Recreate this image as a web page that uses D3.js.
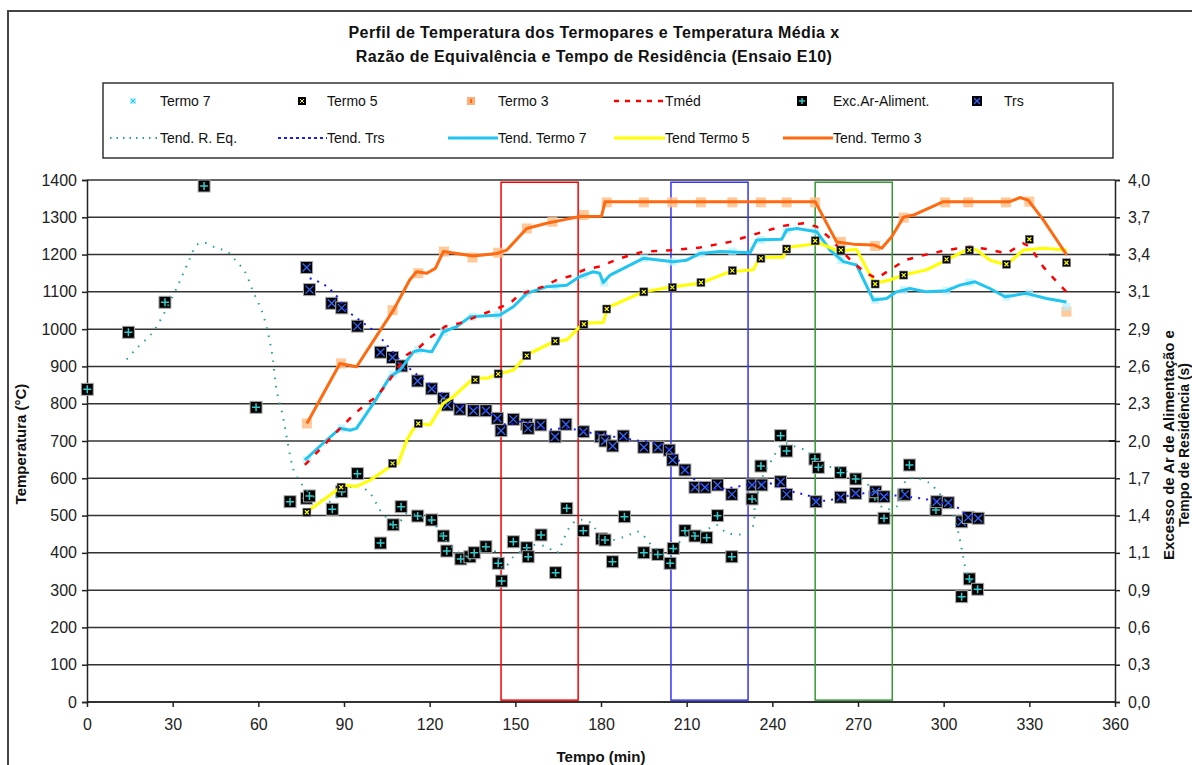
<!DOCTYPE html>
<html><head><meta charset="utf-8">
<script src="https://cdn.jsdelivr.net/npm/d3@7"></script>
<style>
html,body{margin:0;padding:0;background:#fff;}
svg{display:block;font-family:"Liberation Sans",Arial,sans-serif;}
</style></head>
<body><svg id="chart" width="1192" height="765"></svg>
<script>
// ---------- DATA ----------
const titleLines = ["Perfil de Temperatura dos Termopares e Temperatura Média x","Razão de Equivalência e Tempo de Residência (Ensaio E10)"];
const xTicks = [0,30,60,90,120,150,180,210,240,270,300,330,360];
const yTicks = [0,100,200,300,400,500,600,700,800,900,1000,1100,1200,1300,1400];
const yRightTicks = d3.range(0,15).map(i => i*4/14);
const windows = [[145,172],[204.5,231.5],[255,282]];
const windowColors = ["#ff0000","#3333ff","#339933"];

// Thermocouple point series [time(min), °C]
const termo7 = [[77,649],[89,734],[107,878],[116,944],[125,993],[135,1033],[144,1038],[154,1096],[164,1116],[174,1145],[181,1125],[195,1190],[205,1181],[215,1203],[226,1208],[236,1239],[245,1266],[255,1262],[264,1185],[276,1078],[286,1105],[301,1103],[309,1125],[322,1087],[330,1096],[343,1060]];
const termo5 = [[77,509],[89,576],[107,640],[116,747],[136,864],[144,880],[154,929],[164,968],[174,1013],[182,1054],[195,1100],[205,1112],[215,1125],[226,1157],[236,1190],[245,1215],[255,1237],[264,1212],[276,1121],[286,1145],[301,1187],[309,1212],[322,1174],[330,1241],[343,1178]];
const termo3 = [[77,747],[89,908],[107,1051],[116,1150],[125,1208],[135,1192],[144,1205],[154,1270],[163,1288],[174,1306],[182,1340],[195,1340],[205,1340],[215,1340],[226,1340],[236,1340],[245,1340],[255,1340],[264,1234],[276,1223],[286,1299],[300.5,1340],[308.6,1340],[321.8,1340],[330,1342],[343,1047]];

// Trend lines [time, °C]
const tendTermo7 = [[76.3,649],[82.7,694],[88.6,734],[92.1,729],[94.4,734],[100.3,801],[106.1,872],[109.6,890],[114.3,939],[116.6,944],[120.7,939],[124.8,993],[129.5,1007],[134.1,1033],[144.6,1038],[149.3,1060],[154,1096],[161,1114],[168,1118],[172.6,1141],[177.3,1154],[179.5,1150],[180.8,1125],[183.2,1145],[194.8,1190],[205.3,1181],[210,1185],[214.7,1203],[221.7,1208],[232.2,1205],[234.5,1239],[243.3,1241],[245,1266],[248.6,1270],[255.6,1261],[260.2,1212],[264.9,1181],[269.5,1172],[275.4,1078],[280,1082],[283.5,1100],[288.2,1109],[294,1100],[301,1103],[305.7,1118],[311,1127],[316.2,1109],[321.5,1087],[329,1096],[336,1082],[343,1073]];
const tendTermo5 = [[77,510],[82.8,542],[89.8,582],[94.4,578],[99.1,595],[106.1,631],[109,640],[112,703],[115.5,747],[120.1,743],[124.8,801],[128.3,819],[135.3,868],[140,868],[144.6,881],[149.3,890],[154,931],[163.3,966],[168,971],[173.8,1016],[180.8,1018],[182.3,1058],[194.8,1100],[205.3,1114],[214.7,1123],[225.2,1154],[233.3,1159],[235.7,1193],[243.8,1193],[245,1219],[254.3,1228],[256.7,1230],[263.1,1209],[269.5,1214],[273,1163],[275.9,1123],[281.2,1132],[285.9,1145],[294,1159],[309.2,1217],[311.6,1212],[316.2,1185],[322,1172],[327.9,1212],[334.9,1217],[343.1,1212]];
const tendTermo3 = [[77,747],[88.6,908],[94.4,899],[107.3,1051],[113,1132],[115.4,1154],[119,1150],[122,1163],[124.8,1208],[135.3,1196],[143.5,1203],[147,1212],[154,1270],[161,1284],[166.8,1293],[172.6,1302],[180.2,1303],[181.4,1342],[255,1342],[262.5,1234],[268.4,1228],[275.4,1226],[278.3,1217],[281.8,1248],[285.9,1300],[289.4,1306],[299.9,1342],[323.2,1342],[326.7,1353],[329.6,1346],[334.9,1293],[339.6,1239],[343.1,1199]];
const tmed = [[76.3,636],[89.8,743],[93.3,770],[98,801],[101.5,819],[106,864],[112,931],[116.6,953],[120.1,977],[125.4,1007],[130.6,1016],[148.1,1069],[151.6,1094],[159.8,1114],[164.5,1132],[169.1,1142],[174.4,1160],[179.6,1168],[186.6,1190],[194.8,1208],[205.3,1212],[214.7,1219],[225.2,1234],[231,1248],[236.3,1260],[243.8,1277],[250.8,1284],[255.5,1275],[259.6,1248],[268.4,1177],[273,1150],[276.5,1136],[281.2,1159],[286.5,1185],[291.7,1196],[301,1212],[309.2,1221],[315,1215],[322,1203],[327.9,1230],[330.2,1221],[334.9,1167],[339.6,1127],[343,1100]];

// Secondary axis series [time, value]
const excArAliment = [[0.1,2.396],[14.5,2.833],[27.3,3.063],[41,3.954],[59.2,2.258],[71.1,1.535],[76.9,1.561],[77.9,1.579],[85.9,1.477],[89.2,1.612],[94.7,1.75],[102.8,1.218],[107.2,1.358],[110,1.497],[115.8,1.425],[120.7,1.395],[124.8,1.272],[126,1.157],[130.9,1.096],[134.1,1.113],[135.6,1.144],[139.7,1.19],[144,1.063],[145.2,0.927],[149.3,1.228],[154,1.182],[154.5,1.113],[159,1.28],[164.1,0.991],[168,1.484],[173.8,1.313],[180.2,1.25],[181.4,1.241],[184,1.075],[188.2,1.42],[195,1.144],[199.9,1.131],[204.2,1.063],[205.3,1.176],[209.4,1.313],[212.9,1.272],[217,1.259],[220.8,1.428],[225.8,1.113],[232.9,1.556],[236,1.808],[242.9,2.041],[245,1.923],[254.9,1.862],[256.1,1.798],[263.9,1.757],[269.2,1.709],[275.9,1.573],[279.1,1.408],[288,1.816],[297.3,1.471],[306.3,0.807],[309,0.943],[311.9,0.864]];
const trs = [[76.9,3.33],[77.9,3.16],[85.7,3.055],[89.2,3.02],[94.7,2.88],[102.8,2.68],[107,2.64],[110.2,2.575],[115.8,2.46],[120.7,2.40],[124.8,2.327],[126.2,2.276],[130.6,2.243],[135.3,2.232],[139.7,2.232],[143.7,2.174],[145,2.079],[149.3,2.166],[154,2.128],[154.5,2.097],[158.9,2.123],[163.9,2.033],[167.7,2.128],[173.8,2.071],[179.9,2.033],[181.4,2.0],[184.1,1.962],[187.8,2.038],[195,1.952],[200,1.952],[203.9,1.93],[205.1,1.854],[209.4,1.778],[212.9,1.645],[216.4,1.645],[220.8,1.663],[225.8,1.591],[232.9,1.663],[236.3,1.663],[242.9,1.688],[245,1.591],[255.3,1.535],[263.9,1.569],[269.2,1.599],[276.2,1.611],[279.1,1.573],[285.9,1.586],[286.4,1.591],[297.6,1.535],[301.6,1.527],[306.3,1.381],[308.6,1.415],[312.1,1.408]];
const tendREq = [[13.9,2.626],[17.4,2.71],[22.7,2.825],[26.7,2.966],[30.2,3.119],[33.2,3.259],[35.8,3.387],[38.4,3.502],[41,3.52],[45.4,3.477],[48.9,3.456],[52.4,3.374],[55.3,3.297],[58.2,3.144],[61.7,2.966],[64.7,2.684],[66.4,2.391],[68.5,2.199],[69.9,2.033],[71.7,1.829],[72.8,1.752],[76.3,1.638],[80.4,1.56],[85.1,1.535],[89.2,1.599],[94.4,1.663],[99.1,1.599],[102.6,1.471],[105,1.408],[107.9,1.331],[112,1.446],[116.6,1.42],[121.3,1.369],[126,1.228],[130.6,1.139],[135.3,1.113],[140,1.19],[143.5,1.139],[145.8,1.024],[149.3,1.113],[152.8,1.165],[156.3,1.203],[161,1.19],[164.5,1.144],[166.8,1.241],[169.1,1.343],[172,1.395],[176.7,1.369],[180.5,1.241],[188.4,1.267],[193,1.305],[198.3,1.19],[204.2,1.113],[207.1,1.216],[211.2,1.292],[215.8,1.305],[220.5,1.356],[223.4,1.305],[225.8,1.287],[231,1.292],[233.3,1.351],[233.9,1.497],[236.8,1.739],[239.8,1.854],[243.8,1.982],[247.3,1.962],[252,1.923],[257.9,1.808],[262.5,1.798],[268.4,1.739],[273,1.676],[276.5,1.573],[278.9,1.484],[283.5,1.497],[287,1.701],[290.5,1.714],[295.2,1.676],[297,1.637],[299.9,1.561],[302.2,1.497],[304.6,1.343],[305.7,1.241],[306.6,1.139],[307.5,1.037],[309.2,0.935],[311.6,0.884]];
const tendTrs = [[78,3.247],[83.3,3.195],[87.4,3.111],[90.9,3.004],[96.2,2.914],[101.4,2.825],[105,2.736],[109.6,2.621],[114.3,2.531],[119,2.454],[123.6,2.378],[128.3,2.289],[137.6,2.25],[142.3,2.199],[147,2.123],[151.6,2.148],[161,2.09],[168,2.097],[177.3,2.059],[191.3,2.008],[201.8,1.969],[206.5,1.868],[212.3,1.714],[218.2,1.638],[224,1.638],[231,1.663],[238,1.68],[247.3,1.611],[252,1.586],[257.9,1.543],[264.9,1.573],[271.9,1.599],[281.2,1.586],[287,1.573],[295.2,1.548],[304.6,1.492],[307.5,1.446],[311.6,1.415]];

// ---------- DRAW ----------
const svg = d3.select("#chart");
const L = 87, R = 1115, T = 180, B = 702;
const x = d3.scaleLinear().domain([0,360]).range([L,R]);
const y = d3.scaleLinear().domain([0,1400]).range([B,T]);
const yR = d3.scaleLinear().domain([0,4]).range([B,T]);
const FONT = '"Liberation Sans",Arial,sans-serif';

// chart frame
svg.append("rect").attr("x",8).attr("y",11).attr("width",1250).attr("height",800)
  .attr("fill","#fff").attr("stroke","#444").attr("stroke-width",2);

// title
svg.append("g").selectAll("text").data(titleLines).join("text")
  .attr("x",594).attr("y",(d,i)=>38+i*24).attr("text-anchor","middle")
  .attr("font-size",16).attr("letter-spacing",0.4).attr("font-weight","bold").attr("fill","#111").text(d=>d);

// gridlines
svg.append("g").selectAll("line").data(yTicks).join("line")
  .attr("x1",L).attr("x2",R).attr("y1",d=>y(d)).attr("y2",d=>y(d))
  .attr("stroke","#333").attr("stroke-width",1.5);

// axes
const fmtR = d => d3.format(".1f")(d).replace(".",",");
const gx = svg.append("g").attr("transform",`translate(0,${B})`)
  .call(d3.axisBottom(x).tickValues(xTicks).tickSize(5).tickPadding(12).tickFormat(d3.format("d")));
const gy = svg.append("g").attr("transform",`translate(${L},0)`)
  .call(d3.axisLeft(y).tickValues(yTicks).tickSize(5).tickPadding(5).tickFormat(d3.format("d")));
const gr = svg.append("g").attr("transform",`translate(${R},0)`)
  .call(d3.axisRight(yR).tickValues(yRightTicks).tickSize(5).tickPadding(8).tickFormat(fmtR));
[gx,gy,gr].forEach(g=>{
  g.selectAll("path").attr("stroke","#222").attr("stroke-width",1.5);
  g.selectAll("line").attr("stroke","#222").attr("stroke-width",1.5);
  g.selectAll("text").attr("font-size",16).attr("font-family",FONT).attr("fill","#222");
});
gx.select(".domain").remove();
svg.append("line").attr("x1",L).attr("x2",R).attr("y1",B).attr("y2",B).attr("stroke","#222").attr("stroke-width",1.5);
// inward ticks on secondary axis
svg.append("g").selectAll("line").data([2.0, 3.4286]).join("line")
  .attr("x1",R-6).attr("x2",R).attr("y1",d=>yR(d)).attr("y2",d=>yR(d)).attr("stroke","#222").attr("stroke-width",2);

// axis titles
svg.append("text").attr("transform","translate(26,444) rotate(-90)").attr("text-anchor","middle")
  .attr("font-size",15).attr("font-weight","bold").attr("fill","#111").text("Temperatura (°C)");
svg.append("text").attr("x",601).attr("y",762).attr("text-anchor","middle")
  .attr("font-size",15).attr("font-weight","bold").attr("fill","#111").text("Tempo (min)");
svg.append("text").attr("transform","translate(1174,445) rotate(-90)").attr("text-anchor","middle")
  .attr("font-size",15).attr("font-weight","bold").attr("fill","#111").text("Excesso de Ar de Alimentação e");
svg.append("text").attr("transform","translate(1189,445) rotate(-90)").attr("text-anchor","middle")
  .attr("font-size",14).attr("font-weight","bold").attr("fill","#111").text("Tempo de Residência (s)");

// highlight windows
svg.append("g").selectAll("rect").data(windows).join("rect")
  .attr("x",d=>x(d[0])).attr("width",d=>x(d[1])-x(d[0]))
  .attr("y",y(1394)).attr("height",y(5)-y(1394))
  .attr("fill","none").attr("stroke",(d,i)=>windowColors[i]).attr("stroke-width",1.5);

// marker helpers
function bigMarker(g, data, yScale, kind){
  const s = 6;
  const m = g.selectAll("g").data(data).join("g")
    .attr("transform",d=>`translate(${x(d[0])},${yScale(d[1])})`);
  m.append("rect").attr("x",-s).attr("y",-s).attr("width",2*s).attr("height",2*s)
    .attr("fill","#000").attr("stroke","#aaa").attr("stroke-width",1);
  if(kind==="plus"){
    m.append("path").attr("d","M-4,0H4M0,-4V4").attr("stroke","#33cccc").attr("stroke-width",1.5);
  } else {
    m.append("path").attr("d","M-4,-4L4,4M-4,4L4,-4").attr("stroke","#3366ff").attr("stroke-width",1.3);
  }
}
bigMarker(svg.append("g"), excArAliment, yR, "plus");
bigMarker(svg.append("g"), trs, yR, "x");

const line = (ys) => d3.line().x(d=>x(d[0])).y(d=>ys(d[1]));
const smooth = (ys) => d3.line().curve(d3.curveCatmullRom).x(d=>x(d[0])).y(d=>ys(d[1]));

// dotted trend lines (secondary axis)
svg.append("path").datum(tendREq).attr("d",smooth(yR)).attr("fill","none")
  .attr("stroke","#2a9d9d").attr("stroke-width",2).attr("stroke-dasharray","1.5,7");
svg.append("path").datum(tendTrs).attr("d",smooth(yR)).attr("fill","none")
  .attr("stroke","#1a1aff").attr("stroke-width",2).attr("stroke-dasharray","2,6");

// Termo 3 markers
svg.append("g").selectAll("rect").data(termo3).join("rect")
  .attr("x",d=>x(d[0])-5).attr("y",d=>y(d[1])-5).attr("width",10).attr("height",10)
  .attr("fill","#ffc08a").attr("opacity",0.85);
// Termo 7 markers
svg.append("g").selectAll("path").data(termo7).join("path")
  .attr("transform",d=>`translate(${x(d[0])},${y(d[1])})`)
  .attr("d","M-4,-4h8v8h-8z").attr("fill","#b8f0ff").attr("opacity",0.7);

// solid trend lines
svg.append("path").datum(tendTermo7).attr("d",line(y)).attr("fill","none").attr("stroke","#22c4f0").attr("stroke-width",3).attr("stroke-linejoin","round");
svg.append("path").datum(tendTermo5).attr("d",line(y)).attr("fill","none").attr("stroke","#ffff00").attr("stroke-width",3).attr("stroke-linejoin","round");
svg.append("path").datum(tendTermo3).attr("d",line(y)).attr("fill","none").attr("stroke","#ff6a10").attr("stroke-width",3).attr("stroke-linejoin","round");
svg.append("path").datum(tmed).attr("d",line(y)).attr("fill","none").attr("stroke","#ff0000").attr("stroke-width",2.5).attr("stroke-dasharray","6,9");

// Termo 5 markers
const t5 = svg.append("g").selectAll("g").data(termo5).join("g")
  .attr("transform",d=>`translate(${x(d[0])},${y(d[1])})`);
t5.append("rect").attr("x",-4).attr("y",-4).attr("width",8).attr("height",8).attr("fill","#000").attr("stroke","#777").attr("stroke-width",0.6);
t5.append("path").attr("d","M-2,-2L2,2M-2,2L2,-2").attr("stroke","#ffff00").attr("stroke-width",1.2);

// ---------- LEGEND ----------
const lg = svg.append("g");
lg.append("rect").attr("x",103).attr("y",83).attr("width",1010).attr("height",75)
  .attr("fill","#fff").attr("stroke","#333").attr("stroke-width",1.5);
const legendRow1 = [
  {label:"Termo 7", type:"t7", mx:133, tx:160},
  {label:"Termo 5", type:"t5", mx:302, tx:327},
  {label:"Termo 3", type:"t3", mx:471, tx:498},
  {label:"Tméd", type:"tmed", mx:614, tx:665},
  {label:"Exc.Ar-Aliment.", type:"exc", mx:802, tx:833},
  {label:"Trs", type:"trs", mx:977, tx:1004}
];
const legendRow2 = [
  {label:"Tend. R. Eq.", stroke:"#2a9d9d", dash:"1.5,5", w:2, x1:110, tx:160},
  {label:"Tend. Trs", stroke:"#1a1aff", dash:"3,3", w:1.8, x1:278, tx:327},
  {label:"Tend. Termo 7", stroke:"#22c4f0", dash:null, w:3, x1:448, tx:498},
  {label:"Tend Termo 5", stroke:"#ffff00", dash:null, w:3, x1:614, tx:665},
  {label:"Tend. Termo 3", stroke:"#ff6a10", dash:null, w:3, x1:783, tx:833}
];
const ly1 = 101, ly2 = 138;
legendRow1.forEach(it=>{
  const g = lg.append("g");
  if(it.type==="t7"){
    g.append("rect").attr("x",it.mx-3).attr("y",ly1-3).attr("width",6).attr("height",6).attr("fill","#aeeeff");
    g.append("path").attr("d",`M${it.mx-2},${ly1-2}l4,4M${it.mx-2},${ly1+2}l4,-4`).attr("stroke","#22c4f0").attr("stroke-width",1);
  } else if(it.type==="t5"){
    g.append("rect").attr("x",it.mx-4).attr("y",ly1-4).attr("width",8).attr("height",8).attr("fill","#000");
    g.append("path").attr("d",`M${it.mx-2},${ly1-2}l4,4M${it.mx-2},${ly1+2}l4,-4`).attr("stroke","#ffff00").attr("stroke-width",1);
  } else if(it.type==="t3"){
    g.append("rect").attr("x",it.mx-4).attr("y",ly1-4).attr("width",8).attr("height",8).attr("fill","#ffb07a");
    g.append("rect").attr("x",it.mx-1).attr("y",ly1-2).attr("width",2).attr("height",4).attr("fill","#ff6a10");
  } else if(it.type==="tmed"){
    g.append("line").attr("x1",it.mx).attr("x2",it.tx).attr("y1",ly1).attr("y2",ly1)
      .attr("stroke","#ff0000").attr("stroke-width",2.5).attr("stroke-dasharray","5,6");
  } else {
    const s=5;
    g.append("rect").attr("x",it.mx-s).attr("y",ly1-s).attr("width",2*s).attr("height",2*s).attr("fill","#000");
    if(it.type==="exc") g.append("path").attr("d",`M${it.mx-3},${ly1}h6M${it.mx},${ly1-3}v6`).attr("stroke","#33cccc").attr("stroke-width",1.5);
    else g.append("path").attr("d",`M${it.mx-3},${ly1-3}l6,6M${it.mx-3},${ly1+3}l6,-6`).attr("stroke","#3366ff").attr("stroke-width",1.2);
  }
  g.append("text").attr("x",it.tx).attr("y",ly1+5).attr("font-size",14).attr("fill","#111").text(it.label);
});
legendRow2.forEach(it=>{
  const g = lg.append("g");
  g.append("line").attr("x1",it.x1).attr("x2",it.tx).attr("y1",ly2).attr("y2",ly2)
    .attr("stroke",it.stroke).attr("stroke-width",it.w).attr("stroke-dasharray",it.dash);
  g.append("text").attr("x",it.tx).attr("y",ly2+5).attr("font-size",14).attr("fill","#111").text(it.label);
});
</script></body></html>
